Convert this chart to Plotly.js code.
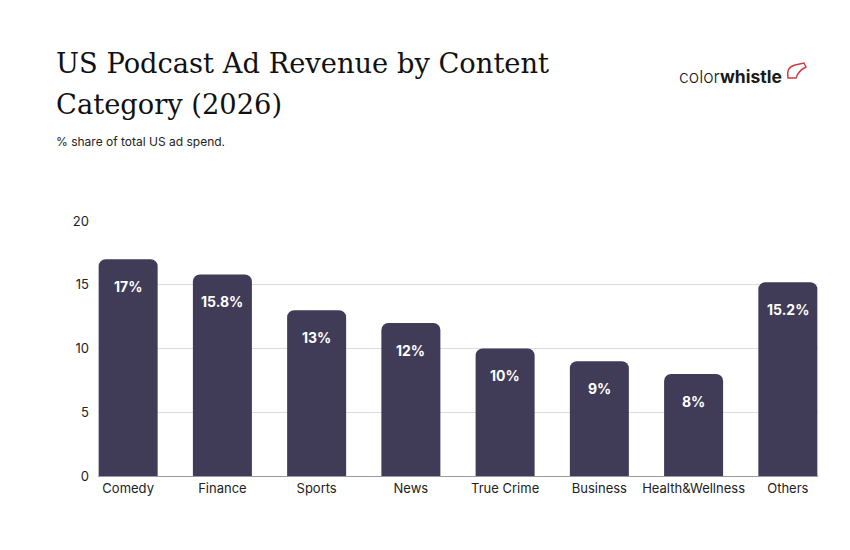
<!DOCTYPE html>
<html>
<head>
<meta charset="utf-8">
<script src="https://cdn.plot.ly/plotly-3.0.1.min.js"></script>
<style>
  html, body { margin: 0; padding: 0; background: #fff; }
  #chart { width: 850px; height: 550px; }
</style>
</head>
<body>
<div id="chart"></div>
<script>
// Share of US podcast ad revenue by content category, 2026 (%)
const categories = ["Comedy", "Finance", "Sports", "News", "True Crime", "Business", "Health&Wellness", "Others"];
const shares = [17, 15.8, 13, 12, 10, 9, 8, 15.2];
const yTicks = [0, 5, 10, 15, 20];

const barColor = "#403b57";
const sansFont = "Inter, 'Noto Sans', sans-serif";
const serifFont = "'DejaVu Serif', 'Liberation Serif', serif";

// plot area in page pixels, used to place the header items
const M = { l: 98, r: 32, t: 221, b: 74 };
const W = 850, H = 550;
const plotW = W - M.l - M.r, plotH = H - M.t - M.b;
const px = x => (x - M.l) / plotW;
const py = y => (H - M.b - y) / plotH;

const trace = {
  type: "bar",
  x: categories,
  y: shares,
  width: 0.626,
  marker: { color: barColor, line: { width: 0 } },
  hoverinfo: "skip",
  cliponaxis: false
};

// value labels sit inside each bar, a little below its top
const valueLabels = categories.map((c, i) => ({
  x: c,
  y: shares[i],
  xref: "x", yref: "y",
  text: "<b>" + shares[i] + "%</b>",
  showarrow: false,
  yanchor: "middle",
  yshift: -27,
  font: { family: sansFont, size: 14, color: "#ffffff" }
}));

// title is set as two lines with a roomy line gap
const titleLines = ["US Podcast Ad Revenue by Content", "Category (2026)"];
const titleAnns = titleLines.map((t, i) => ({
  text: t,
  xref: "paper", yref: "paper",
  x: px(54), y: py(46 + i * 41),
  xanchor: "left", yanchor: "top",
  align: "left",
  showarrow: false,
  font: { family: serifFont, size: 27.3, color: "#111" }
}));

const whistle = "M " + px(788) + " " + py(78) +
  " L " + px(796) + " " + py(78) +
  " Q " + px(798) + " " + py(71) + " " + px(806) + " " + py(67) +
  " L " + px(804) + " " + py(63) +
  " L " + px(795) + " " + py(65) +
  " Q " + px(786) + " " + py(67) + " " + px(788) + " " + py(78) + " Z";

const layout = {
  width: W,
  height: H,
  paper_bgcolor: "#ffffff",
  plot_bgcolor: "#ffffff",
  margin: M,
  barcornerradius: 7,
  showlegend: false,
  font: { family: sansFont, color: "#222" },
  xaxis: {
    type: "category",
    range: [-0.32, 7.32],
    showgrid: false,
    showline: true,
    linecolor: "#9a9a9a",
    linewidth: 1,
    ticks: "",
    tickfont: { family: sansFont, size: 13, color: "#222" },
    fixedrange: true
  },
  yaxis: {
    range: [0, 20],
    tickvals: yTicks,
    showgrid: true,
    gridcolor: "#dcdcdc",
    gridwidth: 1,
    zeroline: false,
    showline: false,
    ticks: "",
    ticklabelstandoff: 8,
    tickfont: { family: sansFont, size: 13, color: "#222" },
    fixedrange: true
  },
  annotations: valueLabels.concat(titleAnns, [
    {
      text: "% share of total US ad spend.",
      xref: "paper", yref: "paper",
      x: px(54), y: py(141),
      xanchor: "left", yanchor: "middle",
      showarrow: false,
      font: { family: sansFont, size: 12, color: "#222" }
    },
    {
      text: "<span style='font-weight:300'>color</span><b>whistle</b>",
      xref: "paper", yref: "paper",
      x: px(784), y: py(76),
      xanchor: "right", yanchor: "middle",
      showarrow: false,
      font: { family: sansFont, size: 17.5, color: "#1a1a1a" }
    }
  ]),
  shapes: [
    {
      // small red whistle mark next to the wordmark
      type: "path",
      xref: "paper", yref: "paper",
      path: whistle,
      line: { color: "#d23a3f", width: 1.4 },
      fillcolor: "rgba(0,0,0,0)"
    }
  ]
};

Plotly.newPlot("chart", [trace], layout, { displayModeBar: false, staticPlot: true });
</script>
</body>
</html>
